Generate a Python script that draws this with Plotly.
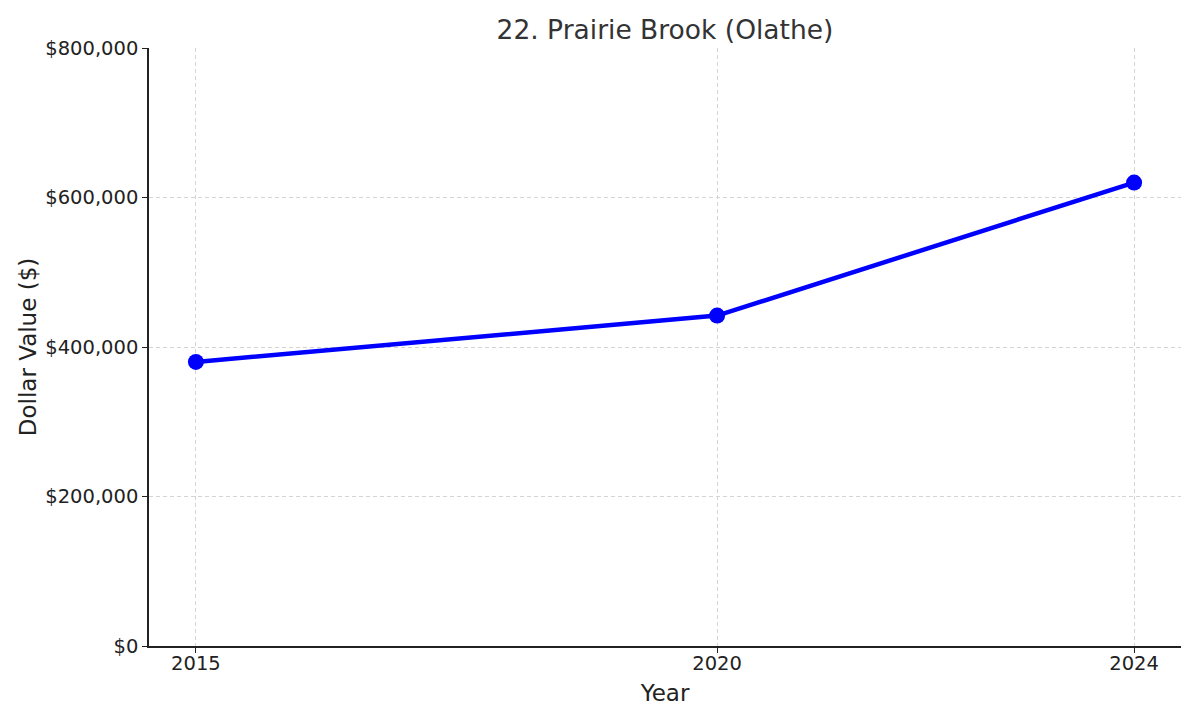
import plotly.graph_objects as go

years = [2015, 2020, 2024]
values = [380000, 442000, 620000]
y_ticks = [0, 200000, 400000, 600000, 800000]
y_tick_labels = ["$0", "$200,000", "$400,000", "$600,000", "$800,000"]

fig = go.Figure()
fig.add_trace(go.Scatter(
    x=years, y=values, mode="lines+markers",
    line=dict(color="#0000ff", width=4.5),
    marker=dict(color="#0000ff", size=16),
    showlegend=False,
))

font = "DejaVu Sans, sans-serif"
fig.update_layout(
    width=1200, height=720,
    margin=dict(l=141, r=27, t=40, b=82),
    paper_bgcolor="white", plot_bgcolor="white",
    title=dict(text="22. Prairie Brook (Olathe)", x=(149 + 1181) / 2 / 1200 - 8 / 1200, xanchor="center",
               y=1 - 22/720, yanchor="middle",
               font=dict(family=font, size=26.5, color="#333333")),
    font=dict(family=font, color="#222222"),
)
fig.update_xaxes(
    range=[2014.55, 2024.45], tickvals=years, ticktext=[str(y) for y in years],
    showline=True, linecolor="#222222", linewidth=1.5,
    ticks="outside", ticklen=5, tickcolor="#222222",
    showgrid=True, gridcolor="#d4d4d4", griddash="4px,3px", gridwidth=1,
    zeroline=False, tickfont=dict(size=19.5, family=font, color="#222222"),
    ticklabelstandoff=-6,
    title=dict(text="Year", font=dict(size=23, family=font, color="#222222"), standoff=11),
)
fig.update_yaxes(
    range=[0, 800000], tickvals=y_ticks, ticktext=y_tick_labels,
    showline=True, linecolor="#222222", linewidth=1.5,
    ticks="outside", ticklen=5, tickcolor="#222222",
    showgrid=True, gridcolor="#d4d4d4", griddash="4px,3px", gridwidth=1,
    zeroline=False, tickfont=dict(size=19.5, family=font, color="#222222"),
    title=dict(text="Dollar Value ($)", font=dict(size=23, family=font, color="#222222"), standoff=2),
)

fig.write_html("out.html")
